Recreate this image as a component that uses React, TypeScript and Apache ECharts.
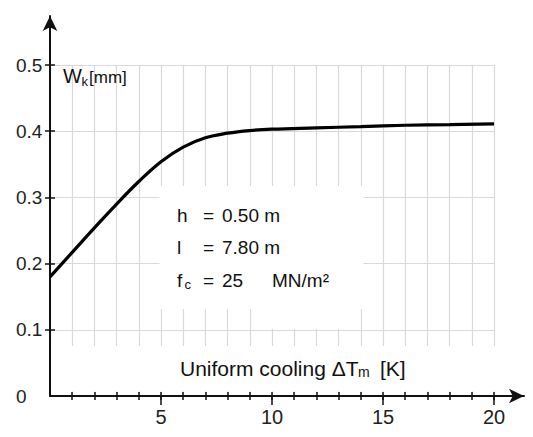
import React, { useEffect, useRef } from "react";
import * as echarts from "echarts";

// Curve: crack width W_k [mm] vs uniform cooling ΔT_m [K]
const X_VALUES = [0, 1, 2, 3, 4, 5, 6, 7, 8, 9, 10, 12, 14, 16, 18, 20];
const W_VALUES = [0.18, 0.217, 0.254, 0.29, 0.324, 0.354, 0.376, 0.39, 0.397, 0.401, 0.403, 0.405, 0.407, 0.409, 0.41, 0.411];

const X_TICKS = [1, 2, 3, 4, 5, 6, 7, 8, 9, 10, 11, 12, 13, 14, 15, 16, 17, 18, 19, 20];
const X_LABELS = [5, 10, 15, 20];
const Y_TICKS = [0.1, 0.2, 0.3, 0.4, 0.5];
const Y_LABELS = [0, 0.1, 0.2, 0.3, 0.4, 0.5];

const X_MAX = 20;
const Y_MAX = 0.5;

const NARROW = "'Liberation Sans Narrow', 'Arial Narrow', 'Liberation Sans', Arial, sans-serif";
const SANS = "'Liberation Sans', Arial, sans-serif";

export default function App() {
  const ref = useRef<HTMLDivElement>(null);

  useEffect(() => {
    if (!ref.current) return;
    const chart = echarts.init(ref.current, null, { renderer: "svg" });

    const G0 = { left: 50, top: 65, width: 444, height: 331 };
    const G1 = { left: 50, top: 16, width: 474, height: 380 };
    const xExt = (X_MAX * G1.width) / G0.width;
    const yExt = (Y_MAX * G1.height) / G0.height;

    const tickStyle = { color: "#111", width: 1.5 };
    const hidden = { show: false };

    const baseX = (extra: any) => ({
      type: "value",
      gridIndex: 0,
      min: 0,
      max: X_MAX,
      interval: 1,
      position: "bottom",
      axisLine: hidden,
      axisTick: hidden,
      axisLabel: hidden,
      splitLine: hidden,
      z: 6,
      ...extra,
    });
    const baseY = (extra: any) => ({
      type: "value",
      gridIndex: 0,
      min: 0,
      max: Y_MAX,
      interval: 0.1,
      position: "left",
      axisLine: hidden,
      axisTick: hidden,
      axisLabel: hidden,
      splitLine: hidden,
      z: 6,
      ...extra,
    });

    const txt = (x: number, y: number, text: string, fontSize: number, family: string, extra: any = {}) => ({
      type: "text",
      x,
      y,
      z: 20,
      style: {
        text,
        fontSize,
        fontFamily: family,
        fill: "#111",
        textAlign: "left",
        align: "left",
        textVerticalAlign: "middle",
        verticalAlign: "middle",
        ...extra,
      },
    });
    const whiteRect = (x: number, y: number, w: number, h: number) => ({
      type: "rect",
      z: 3,
      shape: { x, y, width: w, height: h },
      style: { fill: "#ffffff" },
    });

    chart.setOption({
      animation: false,
      backgroundColor: "#ffffff",
      grid: [
        { ...G0, containLabel: false },
        { ...G1, containLabel: false },
      ],
      xAxis: [
        baseX({ splitLine: { show: true, lineStyle: { color: "#d9d9d9", width: 1.2 } }, z: 0 }),
        baseX({ axisTick: { show: true, inside: false, length: 4, customValues: X_TICKS, lineStyle: tickStyle } }),
        baseX({ axisTick: { show: true, inside: true, length: 4, customValues: X_TICKS, lineStyle: tickStyle } }),
        baseX({
          interval: 5,
          axisTick: { show: true, inside: false, length: 9, customValues: X_LABELS, lineStyle: tickStyle },
          axisLabel: {
            show: true,
            customValues: X_LABELS,
            margin: 11,
            fontSize: 20,
            fontFamily: NARROW,
            color: "#222",
          },
        }),
        {
          type: "value",
          gridIndex: 1,
          min: 0,
          max: xExt,
          position: "bottom",
          axisLine: {
            show: true,
            onZero: false,
            symbol: ["none", "arrow"],
            symbolSize: [11, 15],
            lineStyle: { color: "#111", width: 2 },
          },
          axisTick: hidden,
          axisLabel: hidden,
          splitLine: hidden,
          z: 8,
        },
      ],
      yAxis: [
        baseY({ splitLine: { show: true, lineStyle: { color: "#d9d9d9", width: 1.2 } }, z: 0 }),
        baseY({
          axisTick: { show: true, inside: false, length: 5, customValues: Y_TICKS, lineStyle: tickStyle },
          axisLabel: {
            show: true,
            customValues: Y_LABELS,
            align: "left",
            margin: 34,
            fontSize: 19,
            fontFamily: NARROW,
            color: "#222",
            formatter: (v: number) => (v === 0 ? "0" : v.toFixed(1)),
          },
        }),
        baseY({ axisTick: { show: true, inside: true, length: 5, customValues: Y_TICKS, lineStyle: tickStyle } }),
        {
          type: "value",
          gridIndex: 1,
          min: 0,
          max: yExt,
          position: "left",
          axisLine: {
            show: true,
            onZero: false,
            symbol: ["none", "arrow"],
            symbolSize: [11, 15],
            lineStyle: { color: "#111", width: 2 },
          },
          axisTick: hidden,
          axisLabel: hidden,
          splitLine: hidden,
          z: 8,
        },
      ],
      series: [
        {
          type: "line",
          xAxisIndex: 0,
          yAxisIndex: 0,
          data: X_VALUES.map((x, i) => [x, W_VALUES[i]]),
          smooth: 0.4,
          showSymbol: false,
          symbol: "none",
          lineStyle: { color: "#000", width: 3.2 },
          z: 10,
        },
      ],
      graphic: [
        // masking boxes
        whiteRect(159.5, 186, 204, 123),
        whiteRect(262, 309, 98, 20),
        whiteRect(51, 346, 482, 45.5),
        // y axis unit
        txt(63, 76, "W", 20, NARROW),
        txt(81.5, 81, "k", 13, NARROW),
        txt(89, 77, "[mm]", 17, NARROW),
        // parameters
        txt(177, 215, "h", 19, SANS),
        txt(203, 215, "=", 19, SANS),
        txt(222, 215, "0.50 m", 19, SANS),
        txt(177, 247, "l", 19, SANS),
        txt(203, 247, "=", 19, SANS),
        txt(222, 247, "7.80 m", 19, SANS),
        txt(177, 280, "f", 19, SANS),
        txt(184.5, 284, "c", 13, SANS),
        txt(203, 280, "=", 19, SANS),
        txt(222, 280, "25", 19, SANS),
        txt(272, 280, "MN/m\u00B2", 19, SANS),
        // axis title
        txt(180, 368, "Uniform cooling \u0394T", 21, SANS),
        txt(358, 372, "m", 14, SANS),
        txt(380, 368, "[K]", 21, SANS),
      ],
    });

    return () => chart.dispose();
  }, []);

  return (
    <div
      ref={ref}
      style={{ position: "absolute", left: 0, top: 0, width: 533, height: 437, background: "#fff" }}
    />
  );
}
